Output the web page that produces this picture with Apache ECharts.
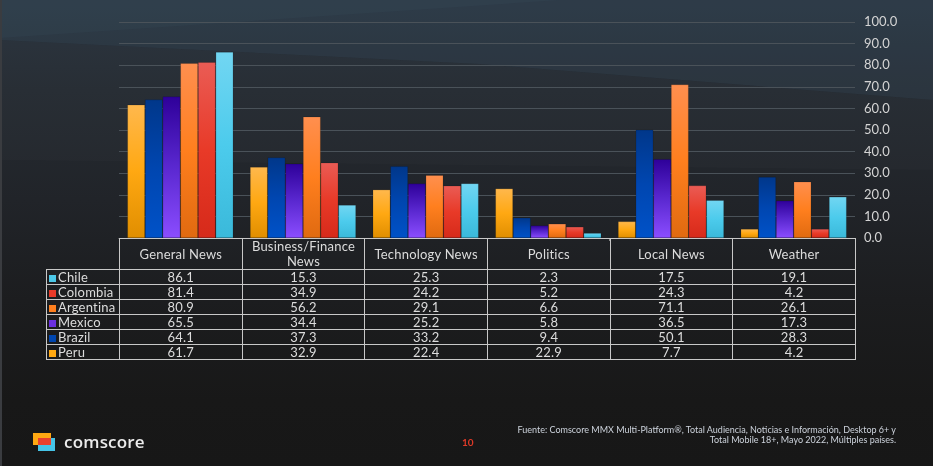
<!DOCTYPE html>
<html><head><meta charset="utf-8">
<script src="https://cdn.jsdelivr.net/npm/echarts@6/dist/echarts.min.js"></script>
<style>
html,body{margin:0;padding:0;}
body{width:933px;height:466px;position:relative;overflow:hidden;font-family:Lato,"Noto Sans",sans-serif;
background:linear-gradient(to bottom,#29333e 0px,#252b32 90px,#212429 200px,#1c1d1f 300px,#181818 400px,#171717 466px);}
.bg{position:absolute;left:0;top:0;width:933px;height:466px;}
#chart{position:absolute;left:0;top:0;width:933px;height:466px;}
table{position:absolute;border-collapse:collapse;color:#dcdcdc;font-size:13px;table-layout:fixed;letter-spacing:0.2px;}
td{border:1px solid #c8c8c8;text-align:center;padding:0;line-height:13px;white-space:nowrap;}
td.lab{text-align:left;padding-left:2px;}
td.blank{border:none;}
.sq{display:inline-block;width:7px;height:7px;margin-right:2px;vertical-align:0px;}
</style></head>
<body>
<div class="bg" style="background:rgba(70,100,120,0.18);clip-path:polygon(0 0,933px 0,933px 100px,480px 64px,0 40px);"></div>
<div class="bg" style="background:rgba(70,100,120,0.10);clip-path:polygon(0 0,560px 0,0 38px);"></div>
<div class="bg" style="background:rgba(255,255,255,0.015);clip-path:polygon(0 40px,480px 64px,933px 100px,933px 170px,0 160px);"></div>
<div class="bg" style="left:0;width:2px;background:#3a3c40;"></div>
<div id="chart"></div>
<table id="tbl" style="left:46px;top:238px;"></table>
<div style="position:absolute;left:33px;top:433px;width:18px;height:12px;background:#ffa812;"></div>
<div style="position:absolute;left:38px;top:438px;width:17px;height:13px;background:#45c3e6;"></div>
<div style="position:absolute;left:38px;top:438px;width:13px;height:7px;background:#e8402c;"></div>
<div style="position:absolute;left:64px;top:430px;font-size:17px;font-weight:600;color:#ececec;font-family:'Open Sans',Lato,sans-serif;letter-spacing:0.2px;">comscore</div>
<div style="position:absolute;left:462px;top:436px;font-size:10px;font-weight:700;color:#e03a28;">10</div>
<div style="position:absolute;right:37px;top:425px;font-size:9px;line-height:10px;color:#cdd3dc;text-align:right;">Fuente: Comscore MMX Multi-Platform®, Total Audiencia, Noticias e Información, Desktop 6+ y<br>Total Mobile 18+, Mayo 2022, Múltiples países.</div>
<script>
const categories = ["General News","Business/Finance News","Technology News","Politics","Local News","Weather"];
const headerLabels = ["General News","Business/Finance<br>News","Technology News","Politics","Local News","Weather"];
const peru      = [61.7, 32.9, 22.4, 22.9, 7.7, 4.2];
const brazil    = [64.1, 37.3, 33.2, 9.4, 50.1, 28.3];
const mexico    = [65.5, 34.4, 25.2, 5.8, 36.5, 17.3];
const argentina = [80.9, 56.2, 29.1, 6.6, 71.1, 26.1];
const colombia  = [81.4, 34.9, 24.2, 5.2, 24.3, 4.2];
const chile     = [86.1, 15.3, 25.3, 2.3, 17.5, 19.1];
const yTicks = [0,10,20,30,40,50,60,70,80,90,100];

const seriesDefs = [
  {name:"Peru", data:peru, g:["#ffb84d","#ffa812","#e08e00"], sq:"#ffa812"},
  {name:"Brazil", data:brazil, g:["#00378a","#0046b0","#0052c8"], sq:"#0046b0"},
  {name:"Mexico", data:mexico, g:["#2e0099","#5a28d0","#8b4dff"], sq:"#6a2fe0"},
  {name:"Argentina", data:argentina, g:["#ff8f4f","#ff7f1e","#e06a10"], sq:"#ff7f1e"},
  {name:"Colombia", data:colombia, g:["#ea5c55","#e83a28","#d62a1a"], sq:"#e83a28"},
  {name:"Chile", data:chile, g:["#72d6f2","#4ccbec","#3ab9da"], sq:"#4cc8e8"}
];

const chart = echarts.init(document.getElementById('chart'), null, {renderer:'canvas'});
chart.setOption({
  backgroundColor:'transparent',
  animation:false,
  grid:{left:119,right:78,top:22,bottom:228},
  xAxis:{type:'category',data:categories,axisLabel:{show:false},axisTick:{show:true,length:3,lineStyle:{color:'#888'}},
    axisLine:{lineStyle:{color:'#999'}}},
  yAxis:{type:'value',position:'right',min:yTicks[0],max:yTicks[yTicks.length-1],interval:10,
    axisLine:{show:false},axisTick:{show:false},
    splitLine:{lineStyle:{color:'#4a5259',width:1}},
    axisLabel:{margin:9,color:'#d4d4d4',fontSize:13,fontFamily:'Lato, sans-serif',formatter:v=>v.toFixed(1)}},
  series:seriesDefs.map(s=>({
    name:s.name,type:'bar',data:s.data,barGap:'0%',barCategoryGap:'13.6%',
    itemStyle:{color:new echarts.graphic.LinearGradient(0,0,0,1,[{offset:0,color:s.g[0]},{offset:0.5,color:s.g[1]},{offset:1,color:s.g[2]}]),
      borderColor:'rgba(0,0,0,0.25)',borderWidth:0.6}
  }))
});

// table
const tbl = document.getElementById('tbl');
const colW = 122.67;
let html = '<colgroup><col style="width:73px">' + categories.map(()=>`<col style="width:${colW}px">`).join('') + '</colgroup>';
html += '<tr style="height:29px"><td class="blank"></td>' + headerLabels.map(h=>`<td style="line-height:15px">${h}</td>`).join('') + '</tr>';
const rowOrder = [5,4,3,2,1,0];
rowOrder.forEach(i=>{
  const s = seriesDefs[i];
  html += `<tr style="height:15px"><td class="lab"><span class="sq" style="background:${s.sq}"></span>${s.name}</td>` +
    s.data.map(v=>`<td>${v.toFixed(1)}</td>`).join('') + '</tr>';
});
tbl.innerHTML = html;
tbl.style.width = (73 + colW*6) + 'px';
</script>
</body></html>
